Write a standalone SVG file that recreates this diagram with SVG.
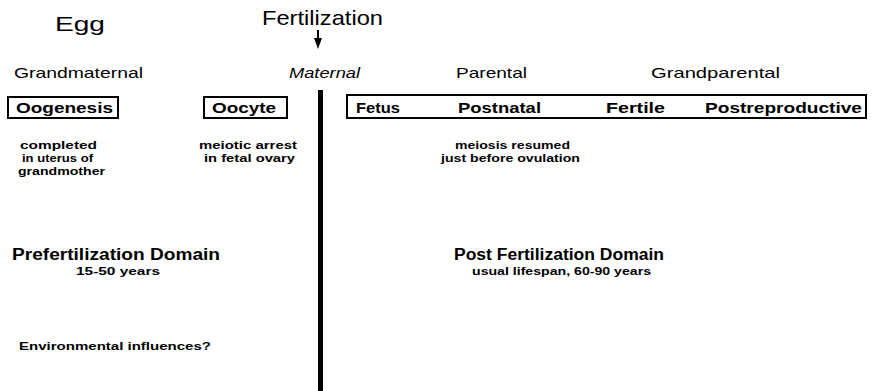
<svg xmlns="http://www.w3.org/2000/svg" width="875" height="391" viewBox="0 0 875 391">
<style>
text{font-family:"Liberation Sans",Arial,sans-serif;fill:#000}
.title{font-size:21px}
.head{font-size:15px}
.box{fill:none;stroke:#000;stroke-width:2}
.bl{font-size:15px;font-weight:bold}
.sm{font-size:11px;font-weight:bold}
.dom{font-size:16px;font-weight:bold}
</style>
<rect width="875" height="391" fill="#fff"/>
<g id="egg"><text class="title" x="55" y="31" textLength="50" lengthAdjust="spacingAndGlyphs">Egg</text></g>
<g id="fertilization"><text class="title" x="262" y="25" textLength="121" lengthAdjust="spacingAndGlyphs">Fertilization</text></g>
<g id="connectors">
<line x1="318" y1="30" x2="318" y2="39" stroke="#000" stroke-width="2"/>
<path d="M314,38 L322,38 L318,49 Z" fill="#000"/>
<line x1="320.5" y1="90" x2="320.5" y2="391" stroke="#000" stroke-width="5"/>
</g>
<g id="grandmaternal"><text class="head" x="14" y="78" textLength="129" lengthAdjust="spacingAndGlyphs">Grandmaternal</text></g>
<g id="maternal"><text class="head" x="289" y="78" textLength="71" lengthAdjust="spacingAndGlyphs" font-style="italic">Maternal</text></g>
<g id="parental"><text class="head" x="456" y="78" textLength="71" lengthAdjust="spacingAndGlyphs">Parental</text></g>
<g id="grandparental"><text class="head" x="651" y="78" textLength="129" lengthAdjust="spacingAndGlyphs">Grandparental</text></g>
<g id="oogenesis">
<rect class="box" x="8" y="97" width="110" height="21"/>
<text class="bl" x="16" y="113" textLength="97" lengthAdjust="spacingAndGlyphs">Oogenesis</text>
</g>
<g id="oocyte">
<rect class="box" x="204" y="97" width="83" height="21"/>
<text class="bl" x="212" y="113" textLength="64" lengthAdjust="spacingAndGlyphs">Oocyte</text>
</g>
<g id="life-stages">
<rect class="box" x="347" y="95" width="519" height="23"/>
<text class="bl" x="356" y="113" textLength="44" lengthAdjust="spacingAndGlyphs">Fetus</text>
<text class="bl" x="458" y="113" textLength="83" lengthAdjust="spacingAndGlyphs">Postnatal</text>
<text class="bl" x="606" y="113" textLength="59" lengthAdjust="spacingAndGlyphs">Fertile</text>
<text class="bl" x="705" y="113" textLength="157" lengthAdjust="spacingAndGlyphs">Postreproductive</text>
</g>
<g id="oogenesis-note">
<text class="sm" x="20" y="149" textLength="77" lengthAdjust="spacingAndGlyphs">completed</text>
<text class="sm" x="22" y="162" textLength="71" lengthAdjust="spacingAndGlyphs">in uterus of</text>
<text class="sm" x="18" y="175" textLength="87" lengthAdjust="spacingAndGlyphs">grandmother</text>
</g>
<g id="oocyte-note">
<text class="sm" x="199" y="149" textLength="98" lengthAdjust="spacingAndGlyphs">meiotic arrest</text>
<text class="sm" x="204" y="162" textLength="91" lengthAdjust="spacingAndGlyphs">in fetal ovary</text>
</g>
<g id="meiosis-note">
<text class="sm" x="455" y="149" textLength="115" lengthAdjust="spacingAndGlyphs">meiosis resumed</text>
<text class="sm" x="441" y="162" textLength="139" lengthAdjust="spacingAndGlyphs">just before ovulation</text>
</g>
<g id="prefertilization-domain">
<text class="dom" x="12" y="260" textLength="208" lengthAdjust="spacingAndGlyphs">Prefertilization Domain</text>
<text class="sm" x="76" y="275" textLength="84" lengthAdjust="spacingAndGlyphs">15-50 years</text>
</g>
<g id="postfertilization-domain">
<text class="dom" x="454" y="260" textLength="210" lengthAdjust="spacingAndGlyphs">Post Fertilization Domain</text>
<text class="sm" x="472" y="275" textLength="179" lengthAdjust="spacingAndGlyphs">usual lifespan, 60-90 years</text>
</g>
<g id="environmental"><text class="sm" x="19" y="350" textLength="192" lengthAdjust="spacingAndGlyphs">Environmental influences?</text></g>
</svg>
